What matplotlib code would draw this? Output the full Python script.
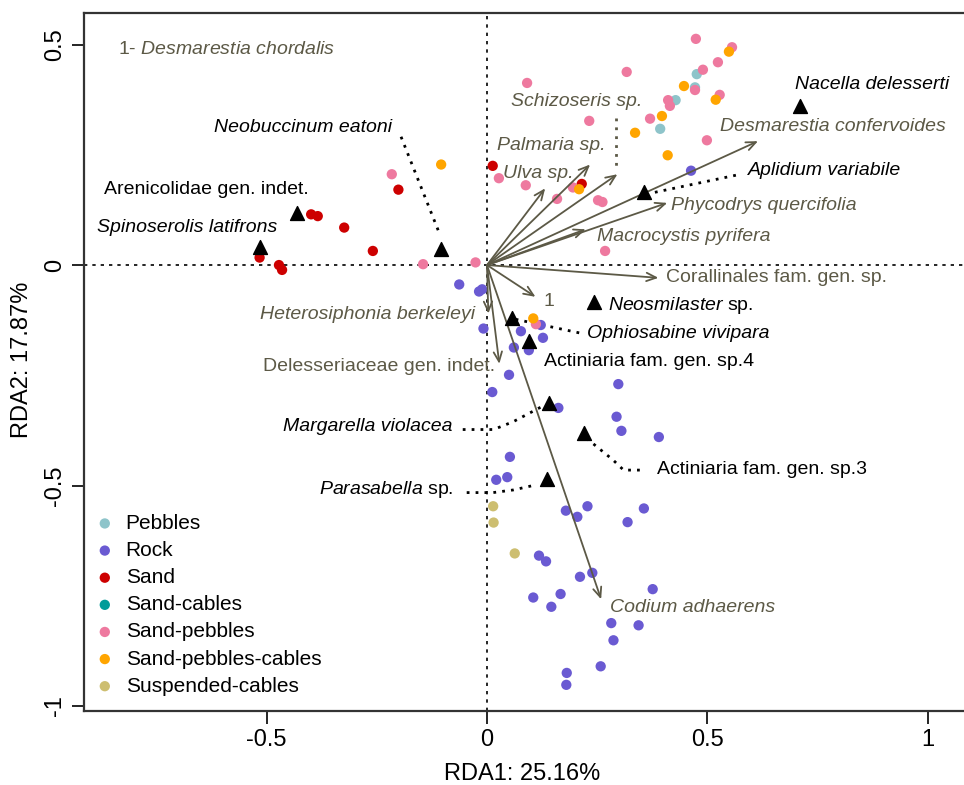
import matplotlib
matplotlib.use("Agg")
import matplotlib.pyplot as plt
from matplotlib import font_manager

names = {f.name for f in font_manager.fontManager.ttflist}
narrow = "Liberation Sans Narrow" if "Liberation Sans Narrow" in names else "Liberation Sans"

plt.rcParams['font.family'] = ['Liberation Sans', 'DejaVu Sans']
plt.rcParams['mathtext.fontset'] = 'custom'
plt.rcParams['mathtext.rm'] = 'Liberation Sans'
plt.rcParams['mathtext.it'] = 'Liberation Sans:italic'

# site scores by substrate
pebbles_x = [0.476, 0.472, 0.428, 0.393]
pebbles_y = [0.433, 0.403, 0.374, 0.309]
rock_x = [0.463, -0.063, -0.018, -0.011, -0.008, 0.122, 0.077, 0.127, 0.061, 0.095,
          0.050, 0.012, 0.298, 0.162, 0.294, 0.305, 0.390, 0.052, 0.021, 0.046,
          0.179, 0.205, 0.228, 0.319, 0.356, 0.118, 0.134, 0.211, 0.239, 0.376,
          0.105, 0.167, 0.146, 0.282, 0.344, 0.287, 0.258, 0.181, 0.180]
rock_y = [0.214, -0.044, -0.060, -0.055, -0.144, -0.136, -0.150, -0.165, -0.187, -0.193,
          -0.249, -0.288, -0.270, -0.324, -0.344, -0.376, -0.390, -0.435, -0.487, -0.481,
          -0.557, -0.571, -0.547, -0.583, -0.552, -0.659, -0.672, -0.707, -0.698, -0.735,
          -0.754, -0.746, -0.775, -0.812, -0.817, -0.851, -0.910, -0.925, -0.952]
sand_x = [0.013, 0.215, -0.201, -0.399, -0.384, -0.324, -0.259, -0.516, -0.472, -0.465]
sand_y = [0.225, 0.184, 0.171, 0.115, 0.111, 0.085, 0.032, 0.017, 0.000, -0.011]
sandcab_x = []
sandcab_y = []
sandpeb_x = [-0.216, -0.145, -0.026, 0.027, 0.474, 0.556, 0.524, 0.490, 0.317, 0.091,
             0.472, 0.528, 0.411, 0.415, 0.370, 0.232, 0.499, 0.088, 0.159, 0.195,
             0.252, 0.262, 0.268, 0.111]
sandpeb_y = [0.206, 0.002, 0.006, 0.197, 0.513, 0.494, 0.460, 0.443, 0.438, 0.413,
             0.397, 0.386, 0.374, 0.361, 0.332, 0.327, 0.283, 0.181, 0.150, 0.176,
             0.147, 0.143, 0.032, -0.134]
sandpebcab_x = [-0.104, 0.549, 0.447, 0.519, 0.397, 0.336, 0.410, 0.209, 0.105]
sandpebcab_y = [0.228, 0.484, 0.406, 0.375, 0.338, 0.300, 0.249, 0.172, -0.121]
susp_x = [0.014, 0.015, 0.063]
susp_y = [-0.547, -0.584, -0.654]

# animal species scores (triangles)
animal_x = [-0.515, -0.430, -0.104, 0.710, 0.356, 0.243, 0.057, 0.095, 0.141, 0.221, 0.136]
animal_y = [0.042, 0.119, 0.036, 0.361, 0.166, -0.083, -0.119, -0.172, -0.312, -0.382, -0.485]

# algae species scores (arrows)
algae_x = [0.132, 0.234, 0.296, 0.615, 0.409, 0.224, 0.389, 0.110, 0.003, 0.028, 0.259]
algae_y = [0.174, 0.228, 0.206, 0.281, 0.141, 0.081, -0.029, -0.072, -0.110, -0.224, -0.758]

olive = '#5C5946'

fig = plt.figure(figsize=(9.64, 7.85), dpi=100)
ax = fig.add_axes([0.0871, 0.0943, 0.93, 0.889])
ax.set_xlim(-0.9145, 1.1198)
ax.set_ylim(-1.0113, 0.5714)

ax.axhline(0, color='black', lw=1.2, ls=(0, (2, 3)), zorder=1)
ax.axvline(0, color='black', lw=1.2, ls=(0, (2, 3)), zorder=1)

groups = [
    ('Pebbles', pebbles_x, pebbles_y, '#8EC4CA'),
    ('Rock', rock_x, rock_y, '#6A5AD2'),
    ('Sand', sand_x, sand_y, '#CD0000'),
    ('Sand-cables', sandcab_x, sandcab_y, '#009C99'),
    ('Sand-pebbles', sandpeb_x, sandpeb_y, '#EE799F'),
    ('Sand-pebbles-cables', sandpebcab_x, sandpebcab_y, '#FFA500'),
    ('Suspended-cables', susp_x, susp_y, '#CDBE70'),
]
for name, xs, ys, col in groups:
    ax.scatter(xs, ys, s=55, color=col, edgecolors='none', label=name, zorder=3)

for x, y in zip(algae_x, algae_y):
    ax.annotate('', xy=(x, y), xytext=(0, 0),
                arrowprops=dict(arrowstyle='->,head_length=0.7,head_width=0.3',
                                color=olive, lw=1.3, shrinkA=0, shrinkB=0), zorder=4)

ax.scatter(animal_x, animal_y, marker='^', s=100, color='black', zorder=5)

# algae labels
fs = 14
ax.text(-0.837, 0.489, '1- $\\it{Desmarestia\\ chordalis}$', color=olive, fontsize=fs, va='center')
ax.text(0.054, 0.370, 'Schizoseris sp.', color=olive, fontsize=fs, style='italic', va='center')
ax.text(0.022, 0.271, 'Palmaria sp.', color=olive, fontsize=fs, style='italic', va='center')
ax.text(0.037, 0.208, 'Ulva sp.', color=olive, fontsize=fs, style='italic', va='center')
ax.text(0.528, 0.314, 'Desmarestia confervoides', color=olive, fontsize=fs, style='italic', va='center')
ax.text(0.417, 0.134, 'Phycodrys quercifolia', color=olive, fontsize=fs, style='italic', va='center')
ax.text(0.249, 0.064, 'Macrocystis pyrifera', color=olive, fontsize=fs, style='italic', va='center')
ax.text(0.407, -0.028, 'Corallinales fam. gen. sp.', color=olive, fontsize=fs, va='center')
ax.text(0.141, -0.082, '1', color=olive, fontsize=fs, va='center', ha='center')
ax.text(-0.027, -0.112, 'Heterosiphonia berkeleyi', color=olive, fontsize=fs, style='italic',
        va='center', ha='right')
ax.text(0.018, -0.231, 'Delesseriaceae gen. indet.', color=olive, fontsize=fs, va='center', ha='right')
ax.text(0.280, -0.776, 'Codium adhaerens', color=olive, fontsize=fs, style='italic', va='center')

# animal labels
ax.text(-0.216, 0.312, 'Neobuccinum eatoni', fontsize=fs, style='italic', va='center', ha='right')
ax.text(-0.870, 0.172, 'Arenicolidae gen. indet.', fontsize=fs, va='center')
ax.text(-0.477, 0.085, 'Spinoserolis latifrons', fontsize=fs, style='italic', va='center', ha='right')
ax.text(0.698, 0.410, 'Nacella delesserti', fontsize=fs, style='italic', va='center')
ax.text(0.593, 0.215, 'Aplidium variabile', fontsize=fs, style='italic', va='center')
ax.text(0.275, -0.091, '$\\it{Neosmilaster}$ sp.', fontsize=fs, va='center')
ax.text(0.226, -0.155, 'Ophiosabine vivipara', fontsize=fs, style='italic', va='center')
ax.text(0.129, -0.219, 'Actiniaria fam. gen. sp.4', fontsize=fs, va='center')
ax.text(-0.078, -0.366, 'Margarella violacea', fontsize=fs, style='italic', va='center', ha='right')
ax.text(0.385, -0.463, 'Actiniaria fam. gen. sp.3', fontsize=fs, va='center')
ax.text(-0.076, -0.509, '$\\it{Parasabella}$ sp.', fontsize=fs, va='center', ha='right')

# leader lines
dot = (0, (1, 2.2))
leaders = [
    ([-0.195, -0.108], [0.291, 0.072], 'black'),
    ([0.292, 0.292], [0.333, 0.219], olive),
    ([0.381, 0.566], [0.165, 0.204], 'black'),
    ([0.065, 0.215], [-0.123, -0.155], 'black'),
    ([-0.055, 0.015, 0.060, 0.132], [-0.373, -0.373, -0.355, -0.317], 'black'),
    ([0.226, 0.286, 0.310, 0.358], [-0.393, -0.442, -0.465, -0.465], 'black'),
    ([-0.046, 0.014, 0.060, 0.109], [-0.516, -0.516, -0.510, -0.499], 'black'),
]
for lx, ly, c in leaders:
    ax.plot(lx, ly, color=c, lw=2, ls=dot, zorder=2)

for s in ax.spines.values():
    s.set_linewidth(1.6)
    s.set_color('#333333')

ax.set_xticks([-0.5, 0, 0.5, 1])
ax.set_xticklabels(['-0.5', '0', '0.5', '1'])
ax.set_yticks([-1, -0.5, 0, 0.5])
ax.set_yticklabels(['-1', '-0.5', '0', '0.5'])
ax.tick_params(length=9, width=1.2, labelsize=17, pad=4)
for lab in ax.get_xticklabels() + ax.get_yticklabels():
    lab.set_fontfamily(narrow)
for lab in ax.get_yticklabels():
    lab.set_rotation(90)
    lab.set_va('center')
ax.set_xlabel('RDA1: 25.16%', fontsize=17, family=narrow)
ax.set_ylabel('RDA2: 17.87%', fontsize=17, family=narrow)
ax.xaxis.set_label_coords(0.4886, -0.074)
ax.yaxis.set_label_coords(-0.057, 0.503)

ax.legend(loc='lower left', bbox_to_anchor=(0.0, 0.007), frameon=False, fontsize=15,
          handlelength=1.0, handletextpad=0.5, labelspacing=0.39, borderpad=0,
          scatterpoints=1, markerscale=1.0)

fig.savefig('out.png', dpi=100)
